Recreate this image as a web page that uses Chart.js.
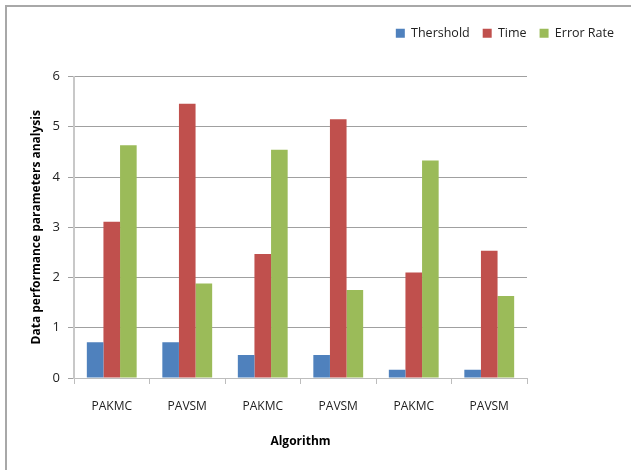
<!DOCTYPE html>
<html>
<head>
<meta charset="utf-8">
<script src="https://cdn.jsdelivr.net/npm/chart.js@4/dist/chart.umd.min.js"></script>
<style>
  html, body { margin: 0; padding: 0; background: #fff; }
  #wrap { width: 631px; height: 470px; position: relative; }
</style>
</head>
<body>
<div id="wrap"><canvas id="c" width="631" height="470"></canvas></div>
<script>
const categories = ['PAKMC', 'PAVSM', 'PAKMC', 'PAVSM', 'PAKMC', 'PAVSM'];
const thresholdValues = [0.71, 0.71, 0.46, 0.46, 0.165, 0.165];
const timeValues = [3.11, 5.46, 2.47, 5.15, 2.10, 2.53];
const errorRateValues = [4.63, 1.88, 4.54, 1.75, 4.33, 1.63];
const yTicks = [0, 1, 2, 3, 4, 5, 6];

const FONT = '"Open Sans", "Liberation Sans", sans-serif';

// thin frame along the top and left edges
const framePlugin = {
  id: 'frame',
  beforeDraw(chart) {
    const ctx = chart.ctx;
    ctx.save();
    ctx.strokeStyle = '#a8a8a8';
    ctx.lineWidth = 2;
    ctx.beginPath();
    ctx.moveTo(6, 470);
    ctx.lineTo(6, 6);
    ctx.lineTo(631, 6);
    ctx.stroke();
    ctx.restore();
  }
};

// spacer axes reserve empty room above and to the right of the plot
const spacer = { display: true, grid: { display: false }, border: { display: false }, ticks: { display: false } };

new Chart(document.getElementById('c'), {
  type: 'bar',
  data: {
    labels: categories,
    datasets: [
      { label: 'Thershold', data: thresholdValues, backgroundColor: '#4F81BD' },
      { label: 'Time', data: timeValues, backgroundColor: '#C0504D' },
      { label: 'Error Rate', data: errorRateValues, backgroundColor: '#9BBB59' }
    ]
  },
  options: {
    responsive: false,
    animation: false,
    devicePixelRatio: 1,
    layout: { padding: { left: 25, right: 4, top: 14, bottom: 17 } },
    datasets: { bar: { categoryPercentage: 0.66, barPercentage: 1.0 } },
    plugins: {
      tooltip: { enabled: false },
      legend: {
        position: 'top',
        align: 'end',
        labels: {
          boxWidth: 9,
          boxHeight: 9,
          padding: 13,
          color: '#222',
          font: { family: FONT, size: 12.5 }
        }
      }
    },
    scales: {
      x: {
        grid: {
          offset: true,
          drawOnChartArea: false,
          drawTicks: true,
          tickLength: 6,
          color: '#bdbdbd'
        },
        border: { color: '#bdbdbd', width: 1 },
        ticks: { color: '#222', font: { family: FONT, size: 12 }, padding: 15 },
        title: {
          display: true,
          text: 'Algorithm',
          color: '#000',
          font: { family: FONT, size: 12, weight: 'bold' },
          padding: { top: 4 }
        },
        afterFit(scale) { scale.height = 75; }
      },
      xTop: Object.assign({}, spacer, {
        position: 'top',
        afterFit(scale) { scale.height = 27; }
      }),
      y: {
        min: 0,
        max: 6,
        afterBuildTicks(scale) { scale.ticks = yTicks.map(v => ({ value: v })); },
        grid: { color: '#a0a0a0', tickLength: 6, drawTicks: true },
        border: { color: '#c8c8c8', width: 2 },
        ticks: { color: '#222', font: { family: FONT, size: 13 }, padding: 8 },
        title: {
          display: true,
          text: 'Data performance parameters analysis',
          color: '#000',
          font: { family: FONT, size: 12, weight: 'bold' },
          padding: { bottom: 2 }
        },
        afterFit(scale) { scale.width = 49; }
      },
      yRight: Object.assign({}, spacer, {
        position: 'right',
        afterFit(scale) { scale.width = 100; }
      })
    }
  },
  plugins: [framePlugin]
});
</script>
</body>
</html>
